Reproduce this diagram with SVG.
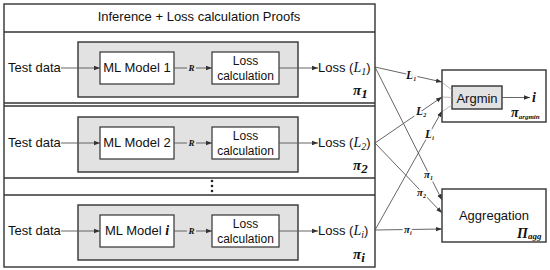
<svg xmlns="http://www.w3.org/2000/svg" width="550" height="270" viewBox="0 0 550 270">
<defs>
<marker id="ah" markerWidth="6" markerHeight="6" refX="6" refY="3" orient="auto" markerUnits="userSpaceOnUse">
<path d="M0,0.8 L6,3 L0,5.2 z" fill="#333"/>
</marker>
<style>
.frame{fill:none;stroke:#333;stroke-width:1.4}
.div{stroke:#333;stroke-width:1.4}
.gray{fill:#e2e2e2;stroke:#333;stroke-width:1.4}
.box{fill:#fff;stroke:#333;stroke-width:1.2}
.t{font-family:"Liberation Sans",Arial,sans-serif;font-size:13px;fill:#111}
.t12{font-family:"Liberation Sans",Arial,sans-serif;font-size:12px;fill:#111}
.m{font-family:"Liberation Serif","Times New Roman",serif;font-style:italic;font-weight:bold;fill:#111}
.mn{font-family:"Liberation Serif","Times New Roman",serif;font-style:italic;font-weight:normal;fill:#111}
.c{fill:none;stroke:#555;stroke-width:0.9;marker-end:url(#ah)}
.ln{fill:none;stroke:#555;stroke-width:0.9}
.lbl{paint-order:stroke;stroke:#fff;stroke-width:3px}
</style>
</defs>
<g id="proof-frame">
<rect class="frame" x="4" y="4" width="371" height="263"/>
<line class="div" x1="4" y1="32" x2="375" y2="32"/>
<line class="div" x1="4" y1="103" x2="375" y2="103"/>
<line class="div" x1="4" y1="106" x2="375" y2="106"/>
<line class="div" x1="4" y1="178" x2="375" y2="178"/>
<line class="div" x1="4" y1="195" x2="375" y2="195"/>
<text class="t" x="199" y="21" text-anchor="middle">Inference + Loss calculation Proofs</text>
<circle cx="212" cy="181" r="1.3" fill="#222"/>
<circle cx="212" cy="186" r="1.3" fill="#222"/>
<circle cx="212" cy="191" r="1.3" fill="#222"/>
</g>
<g id="row1">
<text class="t" x="8" y="72">Test data</text>
<rect class="gray" x="78" y="42" width="220" height="55"/>
<g id="model1"><rect class="box" x="100" y="52" width="74" height="32"/><text class="t" x="137" y="72" text-anchor="middle">ML Model 1</text></g>
<g id="loss1"><rect class="box" x="212" y="52" width="67" height="32"/><text class="t12" x="245.5" y="65" text-anchor="middle">Loss</text><text class="t12" x="245.5" y="80" text-anchor="middle">calculation</text></g>
<text class="t" x="318" y="72">Loss (<tspan class="mn" font-size="14">L</tspan><tspan class="mn" font-size="10" dy="3">1</tspan><tspan dy="-3">)</tspan></text>
<text class="m" x="353" y="95" font-size="15">π<tspan font-size="13" dy="3">1</tspan></text>
</g>
<g id="row2">
<text class="t" x="8" y="147">Test data</text>
<rect class="gray" x="78" y="117" width="220" height="55"/>
<g id="model2"><rect class="box" x="100" y="127" width="74" height="32"/><text class="t" x="137" y="147" text-anchor="middle">ML Model 2</text></g>
<g id="loss2"><rect class="box" x="212" y="127" width="67" height="32"/><text class="t12" x="245.5" y="140" text-anchor="middle">Loss</text><text class="t12" x="245.5" y="155" text-anchor="middle">calculation</text></g>
<text class="t" x="318" y="147">Loss (<tspan class="mn" font-size="14">L</tspan><tspan class="mn" font-size="10" dy="3">2</tspan><tspan dy="-3">)</tspan></text>
<text class="m" x="353" y="170" font-size="15">π<tspan font-size="13" dy="3">2</tspan></text>
</g>
<g id="row3">
<text class="t" x="8" y="235">Test data</text>
<rect class="gray" x="78" y="205" width="220" height="55"/>
<g id="model3"><rect class="box" x="100" y="215" width="74" height="32"/><text class="t" x="137" y="235" text-anchor="middle">ML Model <tspan class="m" font-size="14">i</tspan></text></g>
<g id="loss3"><rect class="box" x="212" y="215" width="67" height="32"/><text class="t12" x="245.5" y="228" text-anchor="middle">Loss</text><text class="t12" x="245.5" y="243" text-anchor="middle">calculation</text></g>
<text class="t" x="318" y="235">Loss (<tspan class="mn" font-size="14">L</tspan><tspan class="mn" font-size="10" dy="3">i</tspan><tspan dy="-3">)</tspan></text>
<text class="m" x="353" y="259" font-size="15">π<tspan font-size="13" dy="3">i</tspan></text>
</g>
<g id="argmin">
<rect class="frame" x="442" y="70" width="104" height="52"/>
<rect class="gray" x="452" y="86" width="50" height="23"/>
<text class="t" x="477" y="102.5" text-anchor="middle">Argmin</text>
<text class="m" x="532" y="102" font-size="14">i</text>
<text class="m" x="511" y="117" font-size="14">π<tspan font-size="7" dy="2">argmin</tspan></text>
</g>
<g id="aggregation">
<rect class="frame" x="442" y="189" width="104" height="53"/>
<text class="t" x="494" y="220" text-anchor="middle">Aggregation</text>
<text class="m" x="517" y="238" font-size="14">Π<tspan font-size="9" dy="1">agg</tspan></text>
</g>
<g id="connectors">
<line class="c" x1="61" y1="68" x2="100" y2="68"/>
<line class="c" x1="61" y1="143" x2="100" y2="143"/>
<line class="c" x1="61" y1="231" x2="100" y2="231"/>
<line class="ln" x1="174" y1="68" x2="187" y2="68"/>
<line class="c" x1="196" y1="68" x2="212" y2="68"/>
<line class="ln" x1="174" y1="143" x2="187" y2="143"/>
<line class="c" x1="196" y1="143" x2="212" y2="143"/>
<line class="ln" x1="174" y1="231" x2="187" y2="231"/>
<line class="c" x1="196" y1="231" x2="212" y2="231"/>
<text class="m" x="191.5" y="71" font-size="9" text-anchor="middle">R</text>
<text class="m" x="191.5" y="146" font-size="9" text-anchor="middle">R</text>
<text class="m" x="191.5" y="234" font-size="9" text-anchor="middle">R</text>
<line class="c" x1="279" y1="68" x2="318" y2="68"/>
<line class="c" x1="279" y1="143" x2="318" y2="143"/>
<line class="c" x1="279" y1="231" x2="318" y2="231"/>
<line class="c" x1="375" y1="67" x2="442" y2="82"/>
<line class="c" x1="375" y1="67" x2="442" y2="200"/>
<line class="c" x1="375" y1="143" x2="442" y2="97"/>
<line class="c" x1="375" y1="143" x2="442" y2="213"/>
<line class="c" x1="375" y1="230" x2="442" y2="111"/>
<line class="c" x1="375" y1="230" x2="442" y2="229"/>
<line class="c" x1="502" y1="97.5" x2="530" y2="97.5"/>
<line stroke="#aaa" stroke-width="0.8" x1="443" y1="83" x2="452" y2="90"/>
<line stroke="#aaa" stroke-width="0.8" x1="443" y1="97" x2="452" y2="97.5"/>
<line stroke="#aaa" stroke-width="0.8" x1="443" y1="111" x2="452" y2="105"/>
<text class="m lbl" x="406" y="79" font-size="12">L<tspan font-size="6" dy="2">1</tspan></text>
<text class="m lbl" x="416" y="115" font-size="12">L<tspan font-size="6" dy="2">2</tspan></text>
<text class="m lbl" x="425" y="138" font-size="12">L<tspan font-size="6" dy="2">i</tspan></text>
<text class="m lbl" x="424" y="178" font-size="11">π<tspan font-size="6" dy="2">1</tspan></text>
<text class="m lbl" x="417" y="196" font-size="11">π<tspan font-size="6" dy="2">2</tspan></text>
<text class="m lbl" x="404" y="233" font-size="11">π<tspan font-size="6" dy="2">i</tspan></text>
</g>
</svg>
